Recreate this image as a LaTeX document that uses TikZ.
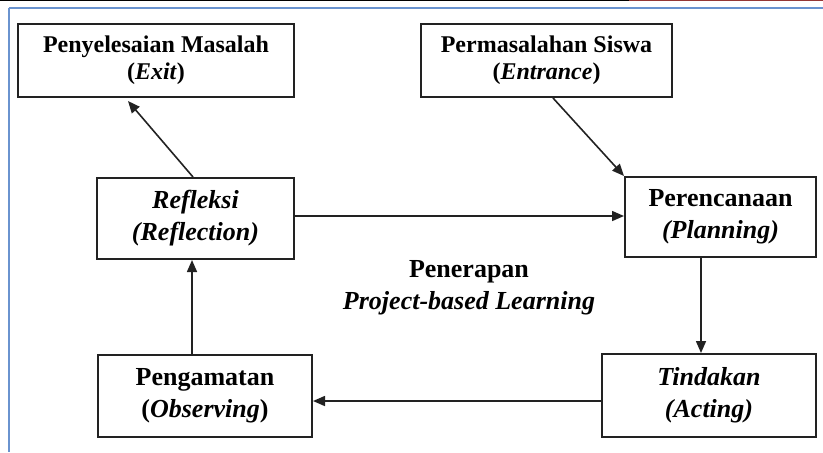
\documentclass[tikz,border=0pt]{standalone}
\usepackage{fontspec}
\setmainfont{Liberation Serif}
\usetikzlibrary{arrows.meta}
\definecolor{frameblue}{HTML}{6A93CF}
\definecolor{framered}{HTML}{953735}
\definecolor{boxline}{HTML}{222222}
\tikzset{
  stagebox/.style={draw=boxline, line width=1pt, align=center, inner sep=0pt,
    font=\fontsize{13}{16}\selectfont\bfseries},
  topbox/.style={stagebox, font=\fontsize{12}{13.5}\selectfont\bfseries},
  flow/.style={draw=boxline, line width=0.8pt, -{Triangle[length=6pt,width=5pt]}},
}
\begin{document}
\begin{tikzpicture}[x=0.5pt,y=-0.5pt]
\useasboundingbox (0,0) rectangle (823,452);
% page frame lines
\draw[line width=0.6pt, black] (0,0.6) -- (629,0.6);
\draw[line width=0.6pt, framered] (629,0.6) -- (823,0.6);
\draw[line width=1pt, frameblue] (8.5,7.5) -- (823,7.5);
\draw[line width=1pt, frameblue] (8.5,7.5) -- (8.5,452);
% nodes
\node[topbox, minimum width=138pt, minimum height=36.5pt] (exit) at (156,60.5)
  {Penyelesaian Masalah\\(\textit{Exit})};
\node[topbox, minimum width=125.5pt, minimum height=36.5pt] (entr) at (546.5,60.5)
  {Permasalahan Siswa\\(\textit{Entrance})};
\node[stagebox, minimum width=98.5pt, minimum height=40.5pt] (refl) at (195.5,218.5)
  {\textit{Refleksi}\\\textit{(Reflection)}};
\node[stagebox, minimum width=95.5pt, minimum height=40pt] (plan) at (720.5,217)
  {Perencanaan\\\textit{(Planning)}};
\node[stagebox, minimum width=107pt, minimum height=41pt] (obs) at (205,396)
  {Pengamatan\\(\textit{Observing})};
\node[stagebox, minimum width=107pt, minimum height=41.5pt] (act) at (709,395.5)
  {\textit{Tindakan}\\\textit{(Acting)}};
\node[font=\fontsize{13}{16}\selectfont\bfseries, align=center, inner sep=0pt] (mid) at (469,288)
  {Penerapan\\\textit{Project-based Learning}};
% connectors
\draw[flow] ([xshift=-1.25pt]refl.north) -- ([xshift=-14pt,yshift=-1.5pt]exit.south);
\draw[flow] ([xshift=3.25pt]entr.south) -- (plan.north west);
\draw[flow] ([yshift=1.25pt]refl.east) -- ([yshift=1.25pt]refl.east -| plan.west);
\draw[flow] ([xshift=-9.75pt]plan.south) -- ([xshift=-9.75pt]plan.south |- act.north);
\draw[flow] ([yshift=-2.75pt]act.west) -- ([yshift=-2.75pt]act.west -| obs.east);
\draw[flow] ([xshift=-6.5pt]obs.north) -- ([xshift=-6.5pt]obs.north |- refl.south);
\end{tikzpicture}
\end{document}
